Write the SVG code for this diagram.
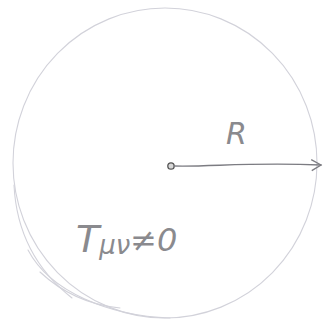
<svg xmlns="http://www.w3.org/2000/svg" width="326" height="325" viewBox="0 0 326 325">
<style>
.pencil{fill:none;stroke:#d2d2da;stroke-width:1.1;stroke-linecap:round}
.lbl{font-family:"DejaVu Sans","Liberation Sans",sans-serif;fill:#8a8a8e;font-style:italic}
.arrow{fill:none;stroke:#7c7c82;stroke-width:1.4;stroke-linecap:round}
</style>
<defs>
<marker id="ah" markerWidth="14" markerHeight="14" refX="11" refY="6" orient="auto" markerUnits="userSpaceOnUse">
<path d="M1,1 L11,6 L2,12" fill="none" stroke="#7c7c82" stroke-width="1.3"/>
</marker>
</defs>
<rect width="326" height="325" fill="#ffffff"/>
<g id="sphere">
<ellipse class="pencil" cx="165" cy="163" rx="152" ry="155"/>
<path class="pencil" d="M28,250 C50,292 110,316 170,318" stroke="#bcbcc8"/>
<path class="pencil" d="M14,185 C16,225 30,265 72,298" stroke="#c6c6d0"/>
<path class="pencil" d="M40,272 C70,300 100,306 120,308" stroke="#c6c6d0"/>
</g>
<g id="center">
<circle cx="171" cy="166" r="3.2" fill="#d8d8d8" stroke="#555" stroke-width="1.3"/>
</g>
<g id="connectors">
<path class="arrow" d="M174,166 C210,167 250,162 321,165" marker-end="url(#ah)"/>
</g>
<g id="label-R">
<text class="lbl" x="226" y="144" font-size="30">R</text>
</g>
<g id="label-T">
<text class="lbl" x="76" y="252" font-size="38">T<tspan font-size="26" dy="2">μν</tspan><tspan font-size="32" dy="-3">≠0</tspan></text>
</g>
</svg>
